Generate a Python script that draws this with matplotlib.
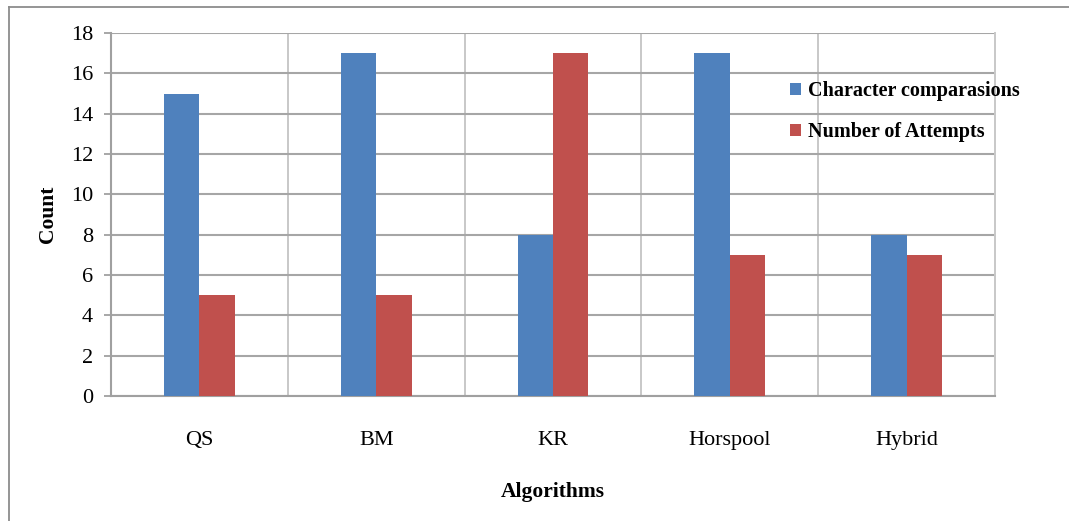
import matplotlib
matplotlib.use("Agg")
import matplotlib.pyplot as plt
from matplotlib.lines import Line2D
import numpy as np

algorithms = ["QS", "BM", "KR", "Horspool", "Hybrid"]
char_comparisons = [15, 17, 8, 17, 8]
num_attempts = [5, 5, 17, 7, 7]
series_names = ["Character comparasions", "Number of Attempts"]
y_ticks = [0, 2, 4, 6, 8, 10, 12, 14, 16, 18]

plt.rcParams["font.family"] = ["Liberation Serif", "DejaVu Serif"]

fig = plt.figure(figsize=(10.69, 5.21), dpi=100)
ax = fig.add_axes([111 / 1069, 1 - 396 / 521, 884 / 1069, 363 / 521])

x = np.arange(len(algorithms))
w = 0.2
ax.bar(x - w / 2, char_comparisons, width=w, color="#4F81BD", label=series_names[0], zorder=3)
ax.bar(x + w / 2, num_attempts, width=w, color="#C0504D", label=series_names[1], zorder=3)

ax.set_xlim(-0.5, len(algorithms) - 0.5)
ax.set_ylim(0, 18)
ax.set_yticks(y_ticks)
ax.set_xticks(x)
ax.set_xticklabels(algorithms, fontsize=16)
ax.set_xticks(np.arange(len(algorithms) - 1) + 0.5, minor=True)
ax.tick_params(axis="x", which="both", length=0, pad=25)
ax.tick_params(axis="y", length=5, width=1.3, color="#A0A0A0", labelsize=16, pad=8)

ax.yaxis.grid(True, color="#A6A6A6", linewidth=1.5, zorder=0)
ax.xaxis.grid(True, which="minor", color="#C8C8C8", linewidth=1.4, zorder=0)

for side in ("left", "bottom"):
    ax.spines[side].set_color("#A0A0A0")
    ax.spines[side].set_linewidth(1.5)
ax.spines["right"].set_color("#C8C8C8")
ax.spines["right"].set_linewidth(1.4)
ax.spines["top"].set_visible(False)

ax.set_ylabel("Count", fontsize=15.5, fontweight="bold", labelpad=9)
ax.set_xlabel("Algorithms", fontsize=15.5, fontweight="bold", labelpad=23)

ax.legend(loc="upper left", bbox_to_anchor=(0.768, 0.868), frameon=False,
          prop={"size": 14.5, "weight": "bold"}, handlelength=0.55, handleheight=0.55,
          handletextpad=0.35, labelspacing=1.05, borderpad=0, borderaxespad=0)

# outer chart frame (left and top edges)
fig.add_artist(Line2D([9 / 1069, 9 / 1069], [0, 1 - 7 / 521], transform=fig.transFigure,
                      color="#8C8C8C", linewidth=1.3))
fig.add_artist(Line2D([9 / 1069, 1], [1 - 7 / 521, 1 - 7 / 521], transform=fig.transFigure,
                      color="#8C8C8C", linewidth=1.3))

fig.savefig("out.png", dpi=100)
